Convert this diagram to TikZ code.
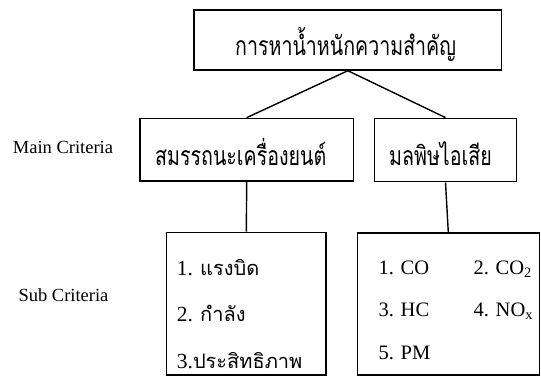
\documentclass[tikz,border=0pt]{standalone}
\usepackage{fontspec}
\setmainfont{Liberation Serif}
\newfontfamily\thaifont[Script=Thai]{Loma}
\newfontfamily\thaititle[Script=Thai,FakeStretch=0.74]{Loma}
\newcommand{\thx}[1]{{\thaifont #1}}
\newcommand{\tht}[1]{{\thaititle #1}}
\begin{document}
\begin{tikzpicture}[x=1pt,y=-1pt,
  box/.style={draw=black,line width=1.4pt,rectangle,inner sep=0pt},
  conn/.style={draw=black,line width=1.4pt},
  lbl/.style={inner sep=0pt,anchor=base west,font=\fontsize{18.5}{20}\selectfont},
  lst/.style={inner sep=0pt,anchor=base west,font=\fontsize{20.5}{22}\selectfont},
  thl/.style={inner sep=0pt,anchor=base west,font=\fontsize{21.5}{23}\selectfont},
  ttl/.style={inner sep=0pt,anchor=base west,font=\fontsize{26.5}{28}\selectfont}]
\useasboundingbox (0,0) rectangle (541,376);
% boxes
\node[box,minimum width=307.7pt,minimum height=60pt] (top) at (347.85,40) {};
\node[box,minimum width=213.3pt,minimum height=62.7pt] (lm) at (246.7,149.7) {};
\node[box,minimum width=142.4pt,minimum height=63.4pt] (rm) at (445.5,150) {};
\node[box,minimum width=159.3pt,minimum height=142.7pt] (ls) at (246.3,303.7) {};
\node[box,minimum width=182pt,minimum height=142pt] (rs) at (448.3,304) {};
% connectors
\draw[conn] (top.south) -- (lm.north);
\draw[conn] (top.south) -- (rm.north);
\draw[conn] (lm.south) -- (ls.north);
\draw[conn] (rm.south) -- (rs.north);
% titles
\node[ttl] (ttop) at (235,55) {\tht{การหาน้ำหนักความสำคัญ}};
\node[ttl] (tlm) at (155,165.5) {\tht{สมรรถนะเครื่องยนต์}};
\node[ttl] (trm) at (389,165.5) {\tht{มลพิษไอเสีย}};
% side labels
\node[lbl] (main) at (12.7,153.3) {Main Criteria};
\node[lbl] (sub) at (18.3,301.7) {Sub Criteria};
% left sub items
\node[thl] (l1) at (176.7,275.5) {1. {\fontsize{20}{22}\thaifont แรงบิด}};
\node[thl] (l2) at (176.7,321.7) {2. {\fontsize{20}{22}\thaifont กำลัง}};
\node[thl] (l3) at (176.7,368) {3.{\fontsize{20}{22}\thaifont ประสิทธิภาพ}};
% right sub items
\node[lst] (r1) at (378.3,274) {1. CO};
\node[lst] (r2) at (473.3,274) {2. CO\textsubscript{2}};
\node[lst] (r3) at (378.3,316.7) {3. HC};
\node[lst] (r4) at (473.3,316.7) {4. NO\textsubscript{x}};
\node[lst] (r5) at (378.3,359) {5. PM};
\end{tikzpicture}
\end{document}
